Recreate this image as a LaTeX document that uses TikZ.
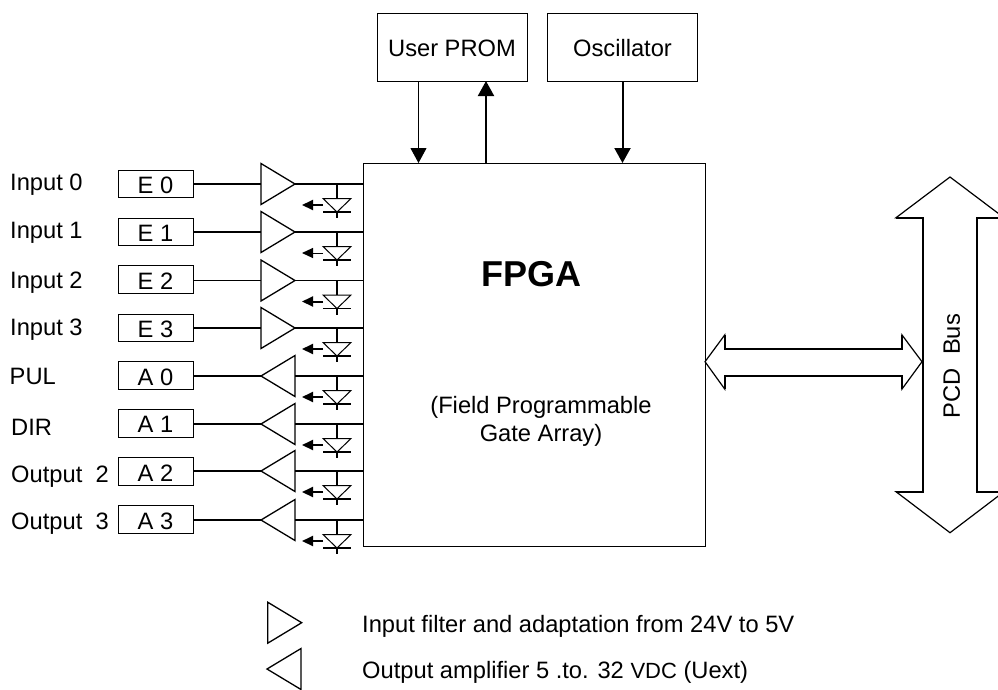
\documentclass[tikz,border=0pt]{standalone}
\usepackage{fontspec}
\setmainfont{Liberation Sans}
\usetikzlibrary{shapes.geometric,arrows.meta}
\tikzset{
  x=1pt,y=-1pt,
  every node/.style={font=\fontsize{23.7}{27.7}\selectfont},
  label text/.style={anchor=base west,inner sep=0pt},
  slot/.style={draw,line width=1pt,minimum width=75pt,minimum height=27.5pt,inner sep=0pt,text height=19pt,text depth=0pt,align=center},
  topbox/.style={draw,line width=1pt,minimum width=150pt,minimum height=68pt,inner sep=0pt,text height=19.4pt,text depth=0pt},
  amp/.style={draw,line width=1.3pt,isosceles triangle,isosceles triangle stretches,inner sep=0pt,outer sep=0pt,minimum width=41pt,minimum height=34pt},
  inamp/.style={amp,anchor=apex},
  outamp/.style={amp,anchor=apex,shape border rotate=180},
  wire/.style={line width=2pt},
  thinwire/.style={line width=1pt},
  head/.style={-{Triangle[length=15pt,width=16pt]}},
  smallhead/.style={-{Triangle[length=11pt,width=10pt]}},
  hollow/.style={draw,line width=1.2pt,fill=white,line join=miter},
}
\newcommand{\diode}[2]{%
  \draw[line width=1.5pt] (337,#1) -- (337,#1+14);
  \draw[line width=1pt] (323,#1+14.5) -- (351,#1+14.5) -- (337,#1+28) -- cycle;
  \draw[line width=1.5pt] (323,#1+28) -- (351,#1+28);
  \draw[line width=1.5pt] (337,#1+28) -- (337,#1+34);
  \draw[#2,smallhead] (323,#1+21) -- (302,#1+21);
}
\begin{document}
\begin{tikzpicture}
\useasboundingbox (0,0) rectangle (998,689);
\clip (0,0) rectangle (998,689);

\node[draw,line width=1pt,minimum width=342pt,minimum height=383pt,inner sep=0pt] (fpga) at (534,354.5) {};
\node[inner sep=0pt,anchor=base] (fpgat) at (531.3,286) {\fontsize{36}{40}\selectfont\bfseries FPGA};
\node[inner sep=0pt,align=center] (fpgad) at (541,421.5) {(Field Programmable\\Gate Array)};

\node[topbox] (prom) at (452,47) {User PROM};
\node[topbox] (osc) at (622.5,47) {Oscillator};
\coordinate (p1) at (418.5,81);
\coordinate (f1) at (418.5,163);
\coordinate (p2) at (486,81);
\coordinate (f2) at (486,163);
\coordinate (o1) at (622.5,81);
\coordinate (f3) at (622.5,163);
\draw[thinwire,head] (p1) -- (f1);
\draw[wire,head] (f2) -- (p2);
\draw[wire,head] (o1) -- (f3);

\node[label text] (l0) at (10,190.7) {Input 0};
\node[label text] (l1) at (10,238) {Input 1};
\node[label text] (l2) at (10,288) {Input 2};
\node[label text] (l3) at (10,335) {Input 3};
\node[label text] (l4) at (9.5,384) {PUL};
\node[label text] (l5) at (11,435) {DIR};
\node[label text] (l6) at (11,482) {Output\ \ 2};
\node[label text] (l7) at (11,529) {Output\ \ 3};

\node[slot] (e0) at (155.5,184) {E 0};
\node[slot] (e1) at (155.5,232) {E 1};
\node[slot] (e2) at (155.5,279.5) {E 2};
\node[slot] (e3) at (155.5,328) {E 3};
\node[slot] (a0) at (155.5,375.5) {A 0};
\node[slot,text height=17pt] (a1) at (155.5,423.5) {A 1};
\node[slot] (a2) at (155.5,471.5) {A 2};
\node[slot] (a3) at (155.5,519.5) {A 3};

\node[inamp] (t0) at (295,184) {};
\node[inamp] (t1) at (295,232) {};
\node[inamp] (t2) at (295,280.5) {};
\node[inamp] (t3) at (295,328) {};
\node[outamp] (t4) at (261,376) {};
\node[outamp] (t5) at (261,424) {};
\node[outamp] (t6) at (261,471) {};
\node[outamp] (t7) at (261,520) {};

\draw[wire] (e0.east |- t0.apex) -- (t0.west |- t0.apex) (t0.apex) -- (fpga.west |- t0.apex);
\draw[wire] (e1.east |- t1.apex) -- (t1.west |- t1.apex) (t1.apex) -- (fpga.west |- t1.apex);
\draw[thinwire] (e2.east |- t2.apex) -- (t2.west |- t2.apex) (t2.apex) -- (fpga.west |- t2.apex);
\draw[wire] (e3.east |- t3.apex) -- (t3.west |- t3.apex) (t3.apex) -- (fpga.west |- t3.apex);
\draw[wire] (a0.east |- t4.apex) -- (t4.apex) (t4.east |- t4.apex) -- (fpga.west |- t4.apex);
\draw[wire] (a1.east |- t5.apex) -- (t5.apex) (t5.east |- t5.apex) -- (fpga.west |- t5.apex);
\draw[wire] (a2.east |- t6.apex) -- (t6.apex) (t6.east |- t6.apex) -- (fpga.west |- t6.apex);
\draw[wire] (a3.east |- t7.apex) -- (t7.apex) (t7.east |- t7.apex) -- (fpga.west |- t7.apex);

\diode{184}{wire}
\diode{232}{thinwire}
\diode{280.5}{wire}
\diode{328}{wire}
\diode{376}{wire}
\diode{424}{wire}
\diode{471}{wire}
\diode{520}{wire}

\path[hollow] (705,361.7) -- (724.7,335) -- (724.7,349) -- (902,349) -- (902,335) -- (922,361.7) -- (902,389) -- (902,376) -- (724.7,376) -- (724.7,389) -- cycle;
\draw[wire] (724.7,335) -- (724.7,349) -- (902,349) -- (902,335) (902,389) -- (902,376) -- (724.7,376) -- (724.7,389);
\path[hollow] (950,177) -- (1004,217.7) -- (976.7,217.7) -- (976.7,491.7) -- (1004,491.7) -- (950,532.7) -- (896,491.7) -- (922.7,491.7) -- (922.7,217.7) -- (896,217.7) -- cycle;
\draw[wire] (1004,217.7) -- (976.7,217.7) -- (976.7,491.7) -- (1004,491.7) (896,491.7) -- (922.7,491.7) -- (922.7,217.7) -- (896,217.7);
\node[rotate=90,inner sep=0pt] (bus) at (951.7,366) {PCD\ \ Bus};

\node[amp,anchor=apex] (k1) at (301.7,622.7) {};
\node[amp,anchor=apex,shape border rotate=180] (k2) at (267,669) {};
\node[label text] (k1t) at (362,632) {Input filter and adaptation from 24V to 5V};
\node[label text] (k2t) at (362,678) {Output amplifier 5 .to. 32 {\fontsize{22}{24}\selectfont VDC} (Uext)};
\end{tikzpicture}
\end{document}
